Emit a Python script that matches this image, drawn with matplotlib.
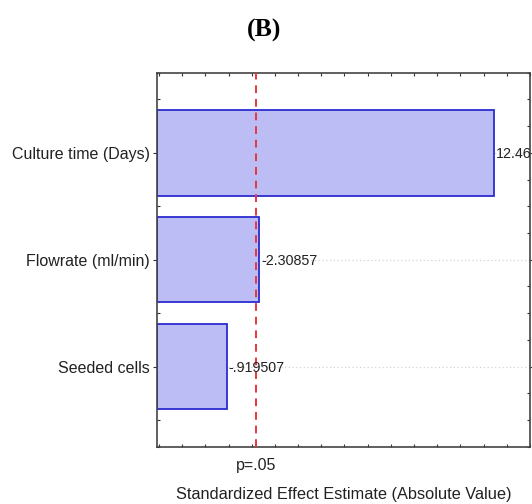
import matplotlib
matplotlib.use("Agg")
import matplotlib.pyplot as plt
from matplotlib.ticker import MultipleLocator

# Pareto chart of standardized effects
factors = ["Culture time (Days)", "Flowrate (ml/min)", "Seeded cells"]
effects = [12.46, 2.30857, 0.919507]
effect_labels = ["12.46", "-2.30857", "-.919507"]
p_value_label = "p=.05"
critical_t = 2.179

plt.rcParams["font.family"] = ["Liberation Sans", "DejaVu Sans"]

x_min, x_max = -2.1, 14.0

fig = plt.figure(figsize=(5.32, 5.04), dpi=100)
ax = fig.add_axes([0.2945, 0.1137, 0.7017, 0.7421])

# bars grow from the left edge of the axis, as in the classic Pareto layout
ypos = list(range(len(factors)))
widths = [v - x_min for v in effects]
ax.barh(ypos, widths, height=0.8, left=x_min, color="#bdbdf6",
        edgecolor="#2b2bd0", linewidth=1.3, zorder=2)

for y in ypos:
    ax.axhline(y, color="#d4d4d4", linestyle=(0, (1, 2)), linewidth=0.9, zorder=1)

ax.axvline(critical_t, color="#e8373d", linestyle=(0, (4, 3)), linewidth=1.4, zorder=3)

for y, v, lab in zip(ypos, effects, effect_labels):
    ax.annotate(lab, xy=(v, y), xytext=(1.5, -1), textcoords="offset points",
                ha="left", va="center", fontsize=10.3, color="#222222",
                zorder=4, annotation_clip=False)

ax.set_xlim(x_min, x_max)
ax.set_ylim(2.75, -0.75)

ax.set_yticks(ypos)
ax.set_yticklabels(factors, fontsize=11.5, color="#222222")
ax.yaxis.set_minor_locator(MultipleLocator(0.25))
ax.set_xticks([critical_t])
ax.set_xticklabels([p_value_label], fontsize=11.5, color="#222222")
ax.xaxis.set_minor_locator(MultipleLocator(1))

ax.tick_params(axis="y", which="major", direction="out", length=3, width=0.8,
               color="#333333", pad=2, right=True)
ax.tick_params(axis="y", which="minor", direction="in", length=2.5, width=0.8,
               color="#333333", left=True, right=True)
ax.tick_params(axis="x", which="major", direction="in", length=0, pad=8)
ax.tick_params(axis="x", which="minor", direction="in", length=2.5, width=0.8,
               color="#333333", top=True, bottom=True)

for s in ax.spines.values():
    s.set_color("#444444")
    s.set_linewidth(1.2)

ax.set_xlabel("Standardized Effect Estimate (Absolute Value)", fontsize=11.8,
              color="#222222", labelpad=10)

fig.text(264 / 532, 1 - 30 / 504, "(B)", ha="center", va="center",
         fontsize=18.5, fontweight="bold", family=["Liberation Serif", "DejaVu Serif"])

fig.savefig("out.png", dpi=100)
